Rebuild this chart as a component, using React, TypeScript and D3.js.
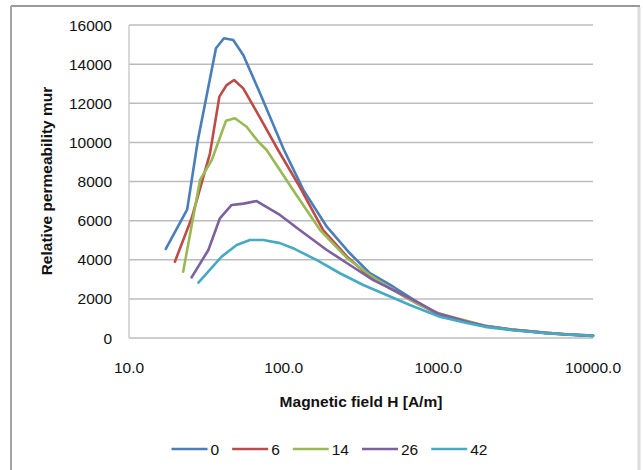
import React from "react";
import * as d3 from "d3";

const seriesNames = ["0", "6", "14", "26", "42"];
const seriesColors = ["#4A7EBB", "#BE4B48", "#98B954", "#7D60A0", "#46AAC5"];

const h0 = [17.3, 23.8, 27.9, 36.5, 41.1, 47.2, 54.8, 70, 100, 134, 190, 268, 361, 511, 724, 1000, 1500, 2000, 3000, 5000, 7000, 10000];
const mu0 = [4550, 6580, 10120, 14810, 15320, 15230, 14470, 12550, 9650, 7570, 5690, 4330, 3310, 2620, 1860, 1180, 830, 600, 420, 260, 180, 120];

const h6 = [19.8, 25.4, 33.4, 38.4, 42.8, 47.8, 54.8, 70, 92, 127, 180, 257, 361, 511, 724, 1000, 1500, 2000, 3000, 5000, 7000, 10000];
const mu6 = [3900, 6120, 9440, 12340, 12930, 13190, 12760, 11290, 9610, 7730, 5520, 4160, 3130, 2450, 1770, 1230, 860, 620, 430, 260, 180, 120];

const h14 = [22.4, 28.8, 34.3, 42.4, 48.4, 57.6, 68.6, 77.6, 115, 172, 257, 361, 511, 760, 1000, 1500, 2000, 3000, 5000, 7000, 10000];
const mu14 = [3390, 8080, 9100, 11110, 11230, 10800, 10030, 9610, 7570, 5520, 4080, 3220, 2450, 1690, 1270, 890, 630, 430, 260, 180, 110];

const h26 = [25.4, 32.6, 38.7, 46.1, 55, 66.8, 94.6, 127, 190, 268, 380, 537, 760, 1000, 1500, 2000, 3000, 5000, 7000, 10000];
const mu26 = [3100, 4500, 6120, 6800, 6870, 7000, 6290, 5520, 4500, 3730, 2960, 2370, 1770, 1250, 860, 610, 420, 250, 170, 110];

const h42 = [28.1, 39.7, 49.7, 60.5, 73.8, 94.6, 115, 163, 231, 327, 463, 655, 1023, 1500, 2000, 3000, 5000, 7000, 10000];
const mu42 = [2830, 4160, 4750, 5010, 5010, 4850, 4590, 3990, 3310, 2710, 2200, 1690, 1090, 780, 570, 400, 240, 170, 110];

const seriesH = [h0, h6, h14, h26, h42];
const seriesMu = [mu0, mu6, mu14, mu26, mu42];

const yTicks = [0, 2000, 4000, 6000, 8000, 10000, 12000, 14000, 16000];
const xTicks = [10, 100, 1000, 10000];

const yTitle = "Relative permeability mur";
const xTitle = "Magnetic field H [A/m]";

export default function App() {
  const W = 643, H = 470;
  const left = 129, right = 593, top = 25, bottom = 338;
  const x = d3.scaleLog().domain([10, 10000]).range([left, right]);
  const y = d3.scaleLinear().domain([0, 16000]).range([bottom, top]);
  const font = "'Liberation Sans', Arial, sans-serif";
  const fs = 15.5;

  const line = d3
    .line<[number, number]>()
    .x((d) => x(d[0]))
    .y((d) => y(d[1]))
    .curve(d3.curveLinear);

  // legend layout
  const lineLen = 36;
  const digitW = fs * 0.556;
  const itemWidths = seriesNames.map((n) => lineLen + 3 + n.length * digitW + 13);
  const totalW = d3.sum(itemWidths) - 13;
  let cursor = 329.5 - totalW / 2;
  const legendX = itemWidths.map((w) => {
    const s = cursor;
    cursor += w;
    return s;
  });
  const legendY = 449;

  return (
    <svg
      width={W}
      height={H}
      style={{ position: "absolute", left: 0, top: 0, background: "#fff" }}
      fontFamily={font}
    >
      <rect x={0} y={0} width={W} height={H} fill="#fff" />
      {/* outer frame */}
      <line x1={11} y1={6} x2={640} y2={6} stroke="#9a9a9a" strokeWidth={2} />
      <line x1={11} y1={6} x2={11} y2={H} stroke="#a4a4a4" strokeWidth={2} />
      <line x1={639} y1={7} x2={639} y2={H} stroke="#dcdcdc" strokeWidth={3} />

      {/* gridlines */}
      {yTicks.map((t) => (
        <line key={t} x1={left} x2={right} y1={y(t)} y2={y(t)} stroke="#bcbcbc" strokeWidth={1.5} />
      ))}
      <line x1={left} x2={left} y1={top} y2={bottom} stroke="#c4c4c4" strokeWidth={1.3} />

      {/* y tick labels */}
      {yTicks.map((t) => (
        <text key={t} x={112} y={y(t)} textAnchor="end" dominantBaseline="central" fontSize={fs} fill="#111">
          {d3.format("d")(t)}
        </text>
      ))}
      {/* x tick labels */}
      {xTicks.map((t) => (
        <text key={t} x={x(t)} y={367} textAnchor="middle" dominantBaseline="central" fontSize={fs} fill="#111">
          {d3.format(".1f")(t)}
        </text>
      ))}

      {/* titles */}
      <text
        transform={`translate(46,181) rotate(-90)`}
        textAnchor="middle"
        dominantBaseline="central"
        fontSize={fs}
        fontWeight="bold"
        fill="#111"
      >
        {yTitle}
      </text>
      <text x={361} y={401} textAnchor="middle" dominantBaseline="central" fontSize={fs} fontWeight="bold" fill="#111">
        {xTitle}
      </text>

      {/* series */}
      {seriesNames.map((n, i) => {
        const pts = seriesH[i].map((h, j) => [h, seriesMu[i][j]] as [number, number]);
        return (
          <path
            key={n}
            d={line(pts) || ""}
            fill="none"
            stroke={seriesColors[i]}
            strokeWidth={2.6}
            strokeLinejoin="round"
            strokeLinecap="round"
          />
        );
      })}

      {/* legend */}
      {seriesNames.map((n, i) => (
        <g key={n}>
          <line
            x1={legendX[i]}
            x2={legendX[i] + lineLen}
            y1={legendY}
            y2={legendY}
            stroke={seriesColors[i]}
            strokeWidth={2.6}
          />
          <text x={legendX[i] + lineLen + 3} y={legendY} dominantBaseline="central" fontSize={fs} fill="#111">
            {n}
          </text>
        </g>
      ))}
    </svg>
  );
}
